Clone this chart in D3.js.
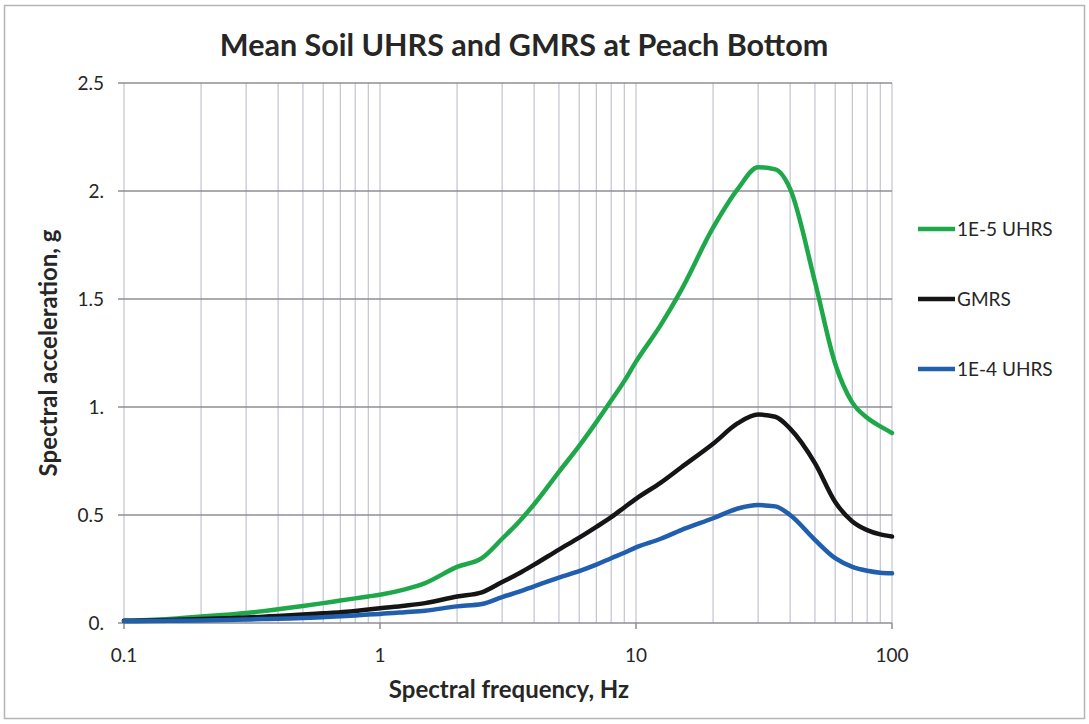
<!DOCTYPE html>
<html>
<head>
<meta charset="utf-8">
<script src="https://cdn.jsdelivr.net/npm/d3@7"></script>
<style>
  body { margin: 0; background: #fff; }
  text { font-family: Lato, "Open Sans", sans-serif; fill: #262626; }
</style>
</head>
<body>
<div id="chart"></div>
<script>
var width = 1089,
    height = 724;

// spectral frequency, Hz
var freqs = [0.1, 0.125, 0.15, 0.2, 0.25, 0.3, 0.35, 0.4, 0.5, 0.6, 0.7, 0.8, 0.9,
  1, 1.25, 1.5, 2, 2.5, 3, 3.5, 4, 5, 6, 7, 8, 9,
  10, 12.5, 15, 20, 25, 30, 35, 40, 50, 60, 70, 80, 90, 100];

// spectral acceleration, g
var uhrs5 = [0.010, 0.014, 0.018, 0.030, 0.038, 0.046, 0.055, 0.064, 0.079, 0.092, 0.104, 0.114, 0.123,
  0.131, 0.156, 0.185, 0.26, 0.30, 0.39, 0.47, 0.55, 0.70, 0.82, 0.93, 1.03, 1.12,
  1.21, 1.38, 1.54, 1.83, 2.01, 2.11, 2.10, 2.01, 1.58, 1.20, 1.02, 0.95, 0.91, 0.88];
var gmrs = [0.010, 0.012, 0.014, 0.019, 0.022, 0.025, 0.029, 0.033, 0.039, 0.045, 0.050, 0.056, 0.062,
  0.068, 0.080, 0.092, 0.123, 0.142, 0.19, 0.23, 0.27, 0.34, 0.395, 0.445, 0.49, 0.535,
  0.575, 0.65, 0.72, 0.83, 0.925, 0.965, 0.955, 0.90, 0.74, 0.56, 0.47, 0.43, 0.41, 0.40];
var uhrs4 = [0.008, 0.009, 0.010, 0.012, 0.014, 0.016, 0.018, 0.020, 0.023, 0.027, 0.031, 0.035, 0.039,
  0.042, 0.050, 0.057, 0.077, 0.088, 0.12, 0.145, 0.17, 0.21, 0.24, 0.27, 0.30, 0.325,
  0.35, 0.39, 0.43, 0.485, 0.53, 0.546, 0.54, 0.50, 0.385, 0.30, 0.26, 0.242, 0.233, 0.23];

var seriesNames = ["1E-5 UHRS", "GMRS", "1E-4 UHRS"];
var seriesColors = ["#1fa84a", "#151515", "#1f5fae"];
var xTicks = [0.1, 1, 10, 100];
var yTicks = [0, 0.5, 1, 1.5, 2, 2.5];
var yTickLabels = ["0.", "0.5", "1.", "1.5", "2.", "2.5"];

var margin = {left: 124, right: 197, top: 83, bottom: 101};

var svg = d3.select("#chart")
    .append("svg")
    .attr("width", width)
    .attr("height", height);

// outer frame
svg.append("rect")
    .attr("x", 4.5).attr("y", 5.5)
    .attr("width", 1080).attr("height", 713)
    .attr("fill", "none")
    .attr("stroke", "#b5b5b5")
    .attr("stroke-width", 1.5);

var x = d3.scaleLog()
    .domain([0.1, 100])
    .range([margin.left, width - margin.right]);

var y = d3.scaleLinear()
    .domain([0, 2.5])
    .range([height - margin.bottom, margin.top]);

// vertical gridlines: every 1..9 per decade
var minor = [];
[0.1, 1, 10].forEach(function(d) {
  for (var k = 1; k <= 9; k++) minor.push(d * k);
});
minor.push(100);

svg.append("g")
    .selectAll("line")
    .data(minor)
    .enter().append("line")
    .attr("x1", function(d) { return x(d); })
    .attr("x2", function(d) { return x(d); })
    .attr("y1", y(0))
    .attr("y2", y(2.5))
    .attr("stroke", "#c3c3d2")
    .attr("stroke-width", 1.2);

// horizontal gridlines
svg.append("g")
    .selectAll("line")
    .data(yTicks)
    .enter().append("line")
    .attr("x1", x(0.1) - 6)
    .attr("x2", x(100))
    .attr("y1", function(d) { return y(d); })
    .attr("y2", function(d) { return y(d); })
    .attr("stroke", "#8e8e96")
    .attr("stroke-width", 1.5);

// x tick marks
svg.append("g")
    .selectAll("line")
    .data(xTicks)
    .enter().append("line")
    .attr("x1", function(d) { return x(d); })
    .attr("x2", function(d) { return x(d); })
    .attr("y1", y(0))
    .attr("y2", y(0) + 6)
    .attr("stroke", "#8e8e96")
    .attr("stroke-width", 1.5);

// tick labels
svg.append("g")
    .selectAll("text")
    .data(yTicks)
    .enter().append("text")
    .attr("x", 104)
    .attr("y", function(d) { return y(d) + 7; })
    .attr("text-anchor", "end")
    .style("font-size", "19px")
    .text(function(d, i) { return yTickLabels[i]; });

svg.append("g")
    .selectAll("text")
    .data(xTicks)
    .enter().append("text")
    .attr("x", function(d) { return x(d); })
    .attr("y", y(0) + 39)
    .attr("text-anchor", "middle")
    .style("font-size", "19px")
    .text(function(d) { return d; });

// lines
var series = [uhrs5, gmrs, uhrs4];
var line = d3.line()
    .x(function(d) { return x(d[0]); })
    .y(function(d) { return y(d[1]); })
    .curve(d3.curveMonotoneX);

svg.append("g")
    .selectAll("path")
    .data(series)
    .enter().append("path")
    .attr("d", function(s) { return line(freqs.map(function(f, i) { return [f, s[i]]; })); })
    .attr("fill", "none")
    .attr("stroke", function(d, i) { return seriesColors[i]; })
    .attr("stroke-width", 4.5)
    .attr("stroke-linejoin", "round")
    .attr("stroke-linecap", "round");

// title & axis titles
svg.append("text")
    .attr("x", 524)
    .attr("y", 56)
    .attr("text-anchor", "middle")
    .style("font-size", "30.5px")
    .style("font-weight", "bold")
    .text("Mean Soil UHRS and GMRS at Peach Bottom");

svg.append("text")
    .attr("x", 509)
    .attr("y", 698)
    .attr("text-anchor", "middle")
    .style("font-size", "24px")
    .style("font-weight", "bold")
    .text("Spectral frequency, Hz");

svg.append("text")
    .attr("transform", "translate(57,353) rotate(-90)")
    .attr("text-anchor", "middle")
    .style("font-size", "24px")
    .style("font-weight", "bold")
    .text("Spectral acceleration, g");

// legend
var legend = svg.append("g")
    .selectAll("g")
    .data(seriesNames)
    .enter().append("g")
    .attr("transform", function(d, i) { return "translate(918," + (229 + i * 70) + ")"; });

legend.append("line")
    .attr("x1", 0).attr("x2", 37)
    .attr("stroke", function(d, i) { return seriesColors[i]; })
    .attr("stroke-width", 4.5);

legend.append("text")
    .attr("x", 39)
    .attr("y", 7)
    .style("font-size", "19px")
    .text(function(d) { return d; });
</script>
</body>
</html>
